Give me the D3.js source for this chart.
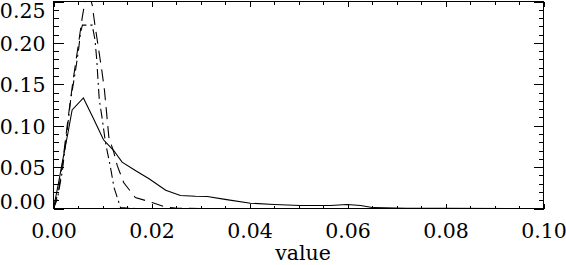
<!DOCTYPE html>
<html>
<head>
<meta charset="utf-8">
<script src="https://cdn.jsdelivr.net/npm/d3@7/dist/d3.min.js"></script>
<style>
    body { margin: 0; background: #ffffff; }
    text { font-family: "DejaVu Serif", serif; font-size: 20.5px; fill: #000000; }
    .axis path { display: none; }
    .axis line { stroke: #000000; shape-rendering: crispEdges; }
</style>
</head>
<body>
<div id="chart"></div>
<script>
const xTickValues = [0, 0.02, 0.04, 0.06, 0.08, 0.10];
const yTickValues = [0, 0.05, 0.10, 0.15, 0.20, 0.25];
const xMinorTicks = [0.005, 0.01, 0.015, 0.025, 0.03, 0.035, 0.045, 0.05, 0.055, 0.065, 0.07, 0.075, 0.085, 0.09, 0.095];
const yMinorTicks = [0.01, 0.02, 0.03, 0.04, 0.06, 0.07, 0.08, 0.09, 0.11, 0.12, 0.13, 0.14, 0.16, 0.17, 0.18, 0.19, 0.21, 0.22, 0.23, 0.24];
const xTitle = 'value';

// [value, density]
const solidSeries = [
    [0, 0], [0.001, 0.03], [0.002, 0.062], [0.003, 0.093], [0.0038, 0.119], [0.0061, 0.1335],
    [0.0082, 0.108], [0.0102, 0.083], [0.0123, 0.070], [0.014, 0.056], [0.0167, 0.046],
    [0.0195, 0.036], [0.0229, 0.022], [0.0259, 0.0157], [0.029, 0.0148], [0.0314, 0.0145],
    [0.035, 0.011], [0.0402, 0.0064], [0.045, 0.0048], [0.0504, 0.0036], [0.0565, 0.0036],
    [0.0599, 0.0048], [0.0627, 0.0036], [0.0653, 0.001], [0.072, 0.0003], [0.08, 0.0001], [0.1, 0]
];

const dashedSeries = [
    [0, 0], [0.001, 0.02], [0.002, 0.062], [0.003, 0.11], [0.004, 0.155], [0.005, 0.195],
    [0.0059, 0.232], [0.0069, 0.265], [0.0079, 0.246], [0.0084, 0.224], [0.0099, 0.165],
    [0.0104, 0.143], [0.0113, 0.086], [0.0123, 0.068], [0.013, 0.052], [0.01435, 0.031],
    [0.0167, 0.0133], [0.0201, 0.0073], [0.0229, 0.0016], [0.0249, 0.0004], [0.03, 0]
];

const dashDotSeries = [
    [0, 0], [0.0008, 0.012], [0.0018, 0.045], [0.0028, 0.095], [0.0035, 0.131], [0.0045, 0.167],
    [0.0051, 0.191], [0.0055, 0.212], [0.0059, 0.2215], [0.0079, 0.2215], [0.00847, 0.2034],
    [0.00884, 0.179], [0.00908, 0.155], [0.00935, 0.131], [0.0099, 0.110], [0.0106, 0.080],
    [0.01163, 0.0496], [0.01235, 0.0254], [0.01367, 0.0012], [0.015, 0.0005], [0.017, 0]
];

const width = 566, height = 265;
const margin = { top: 1.5, right: 22.5, bottom: 56.5, left: 53.5 };
const plotW = width - margin.left - margin.right;
const plotH = height - margin.top - margin.bottom;

const svg = d3.select('#chart')
    .append('svg')
    .attr('width', width)
    .attr('height', height);

const g = svg.append('g')
    .attr('transform', `translate(${margin.left}, ${margin.top})`);

const xScale = d3.scaleLinear().domain([0, 0.1]).range([0, plotW]);
const yScale = d3.scaleLinear().domain([0, 0.25]).range([plotH, 0]);

g.append('clipPath')
    .attr('id', 'plot-clip')
    .append('rect')
    .attr('width', plotW)
    .attr('height', plotH);

// Curves
const line = d3.line()
    .x((d) => xScale(d[0]))
    .y((d) => yScale(d[1]));

const series = [
    { data: solidSeries, dash: null },
    { data: dashedSeries, dash: '12,7' },
    { data: dashDotSeries, dash: '10,4,2,4' }
];

g.append('g')
    .attr('clip-path', 'url(#plot-clip)')
    .selectAll('path')
    .data(series)
    .enter()
    .append('path')
        .attr('d', (d) => line(d.data))
        .attr('fill', 'none')
        .attr('stroke', '#000000')
        .attr('stroke-width', 1.1)
        .attr('stroke-dasharray', (d) => d.dash);

// Box
g.append('rect')
    .attr('width', plotW)
    .attr('height', plotH)
    .attr('fill', 'none')
    .attr('stroke', '#000000')
    .attr('shape-rendering', 'crispEdges');

// X axes (ticks point inward)
g.append('g')
    .attr('class', 'axis')
    .attr('transform', `translate(0, ${plotH})`)
    .call(d3.axisBottom(xScale).tickValues(xTickValues).tickSize(-5).tickPadding(15).tickFormat(d3.format('.2f')));
g.append('g')
    .attr('class', 'axis')
    .attr('transform', `translate(0, ${plotH})`)
    .call(d3.axisBottom(xScale).tickValues(xMinorTicks).tickSize(-3).tickFormat(''));
g.append('g')
    .attr('class', 'axis')
    .call(d3.axisTop(xScale).tickValues(xTickValues).tickSize(-5).tickFormat(''));
g.append('g')
    .attr('class', 'axis')
    .call(d3.axisTop(xScale).tickValues(xMinorTicks).tickSize(-3).tickFormat(''));

// Y axes
const yAxis = g.append('g')
    .attr('class', 'axis')
    .call(d3.axisLeft(yScale).tickValues(yTickValues).tickSize(-10).tickPadding(8).tickFormat(d3.format('.2f')));
// end labels stay inside the box height
yAxis.selectAll('text')
    .attr('y', (d) => Math.min(Math.max(yScale(d), 8.2), plotH - 7.8) - yScale(d))
    .attr('dy', '0.36em');
g.append('g')
    .attr('class', 'axis')
    .call(d3.axisLeft(yScale).tickValues(yMinorTicks).tickSize(-5).tickFormat(''));
g.append('g')
    .attr('class', 'axis')
    .attr('transform', `translate(${plotW}, 0)`)
    .call(d3.axisRight(yScale).tickValues(yTickValues).tickSize(-10).tickFormat(''));
g.append('g')
    .attr('class', 'axis')
    .attr('transform', `translate(${plotW}, 0)`)
    .call(d3.axisRight(yScale).tickValues(yMinorTicks).tickSize(-5).tickFormat(''));

g.selectAll('.axis text')
    .attr('font-family', '"DejaVu Serif", serif')
    .attr('font-size', '20.5px')
    .attr('fill', '#000000');

svg.append('text')
    .attr('x', 303)
    .attr('y', 260)
    .attr('text-anchor', 'middle')
    .text(xTitle);
</script>
</body>
</html>
